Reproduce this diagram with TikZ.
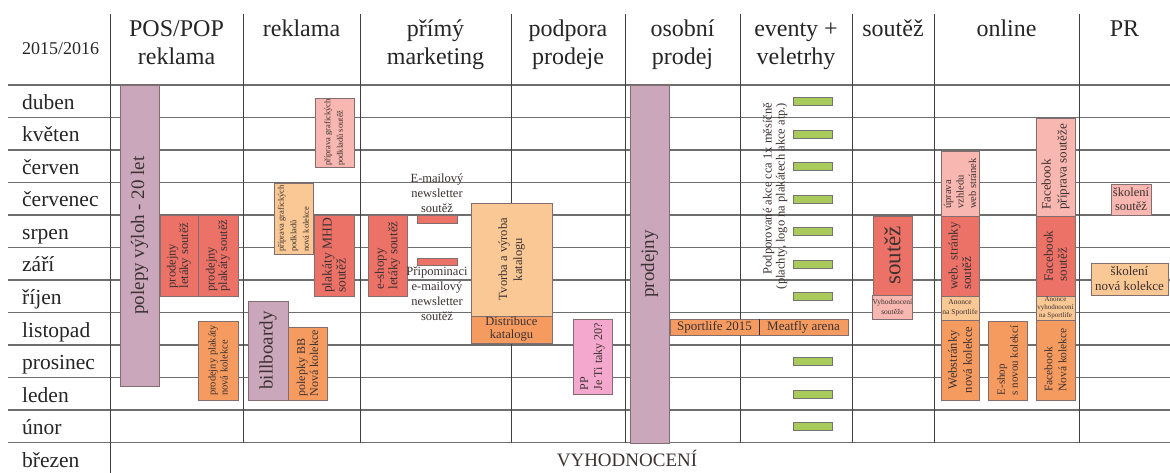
\documentclass[tikz,border=0pt]{standalone}
\usepackage{fontspec}
\setmainfont{Liberation Serif}
\usepackage{xcolor}
\usepackage{tikz}
\usetikzlibrary{positioning}
\definecolor{purp}{RGB}{203,167,187}
\definecolor{redc}{RGB}{236,114,104}
\definecolor{pinkl}{RGB}{248,183,176}
\definecolor{orl}{RGB}{250,200,148}
\definecolor{org}{RGB}{246,155,96}
\definecolor{pinkpp}{RGB}{245,168,205}
\definecolor{lime}{RGB}{168,203,92}
\definecolor{edge}{RGB}{130,110,110}
\definecolor{ink}{RGB}{60,50,50}
\definecolor{rulegray}{RGB}{110,110,110}
\newcommand{\fsz}[2]{\fontsize{#1}{#2}\selectfont}
\tikzstyle{hline} = [draw=rulegray, line width=1.1pt]
\tikzstyle{vline} = [draw=black!75, line width=0.9pt]
\tikzstyle{head} = [anchor=base, align=center, inner sep=0pt, text=black!85, font=\fsz{24}{28}]
\tikzstyle{month} = [anchor=base west, inner sep=0pt, text=black!85, font=\fsz{21.5}{24}]
\tikzstyle{cell} = [draw=edge, line width=0.7pt, inner sep=0pt, text=ink, align=center]
\tikzstyle{note} = [inner sep=0pt, text=ink, align=center, font=\fsz{12.5}{15}]
\tikzstyle{sep} = [draw=black!80, line width=1.6pt]
\tikzset{vcell/.style 2 args={cell, rotate=90, minimum width=#2pt, minimum height=#1pt},
  hcell/.style 2 args={cell, minimum width=#1pt, minimum height=#2pt}}

\begin{document}
\begin{tikzpicture}[x=1pt, y=-1pt]
    \useasboundingbox (0,0) rectangle (1170,473);
    \fill[white] (0,0) rectangle (1170,473);
    % grid
    \foreach \k in {0,...,11}
        \draw[hline] (8,{85+32.5*\k}) -- (1170,{85+32.5*\k});
    \foreach \x in {243,360,511,625,740,852,934,1079}
        \draw[vline] (\x,14) -- (\x,442.5);
    \draw[vline] (110,14) -- (110,473);

    % header (two-line nodes sit on the baseline of their last line)
    \node[month, font=\fsz{18}{20}] (year) at (22,55) {2015/2016};
    \node[head] (hpos) at (176.5,65) {POS/POP\\reklama};
    \node[head] (hrek) at (301.5,37) {reklama};
    \node[head] (hpm) at (435.5,65) {přímý\\marketing};
    \node[head] (hpp) at (568,65) {podpora\\prodeje};
    \node[head] (hop) at (682.5,65) {osobní\\prodej};
    \node[head] (hev) at (796,65) {eventy +\\veletrhy};
    \node[head] (hsou) at (893,37) {soutěž};
    \node[head] (honl) at (1006.5,37) {online};
    \node[head] (hpr) at (1124.5,37) {PR};

    % months
    \foreach \m [count=\i from 0] in {duben,květen,červen,červenec,srpen,září,říjen,listopad,prosinec,leden,únor,březen}
        \node[month] (m\i) at (22,{85+32.5*\i+24.5}) {\m};

    % POS/POP
    \node[vcell={39}{301}, fill=purp, font=\fsz{19}{22}] (polepy) at (139.5,235.5) {polepy výloh - 20 let};
    \node[vcell={38}{81}, fill=redc, align=left, font=\fsz{12.5}{12.5}] (letaky) at (179,255.5) {prodejny\\letáky soutěž};
    \node[vcell={40}{81}, fill=redc, align=left, font=\fsz{12.5}{12.5}] (plakaty) at (218,255.5) {prodejny\\plakáty soutěž};
    \node[vcell={40}{79}, fill=org, align=left, font=\fsz{10.5}{12}] (plakatynk) at (218,360.5) {prodejny plakáty\\nová kolekce};

    % reklama
    \node[vcell={39}{69}, fill=pinkl, align=left, font=\fsz{8.5}{12.5}] (pripravas) at (334.5,132.5) {příprava grafických\\podkladů soutěž};
    \node[vcell={39}{71}, fill=orl, align=left, font=\fsz{8.5}{12.5}] (pripravank) at (293.5,218.5) {příprava grafických\\podkladů\\nová kolekce};
    \node[vcell={40}{81}, fill=redc, align=left, font=\fsz{13.5}{14}] (mhd) at (334,255.5) {plakáty MHD\\soutěž};
    \node[vcell={40}{99}, fill=purp, font=\fsz{19}{22}] (billboardy) at (268,350.5) {billboardy};
    \node[vcell={39}{73}, fill=org, align=left, font=\fsz{12}{13}] (polepky) at (307.5,363.5) {polepky BB\\Nová kolekce};

    % primy marketing
    \node[vcell={39}{81}, fill=redc, align=left, font=\fsz{13}{13.5}] (eshopy) at (387.5,255.5) {e-shopy\\letáky soutěž};
    \node[hcell={40}{8}, fill=redc] (bar1) at (437,219) {};
    \node[hcell={40}{7}, fill=redc] (bar2) at (437,261.5) {};
    \node[note, above=2pt of bar1] (mail1) {E-mailový\\newsletter\\soutěž};
    \node[note, below=1pt of bar2] (mail2) {Připominaci\\e-mailový\\newsletter\\soutěž};

    % podpora prodeje
    \node[vcell={81}{113}, fill=orl, font=\fsz{12.5}{15}] (tvorba) at (511.5,259.5) {Tvorba a výroba\\katalogu};
    \node[hcell={81}{27}, fill=org, font=\fsz{12.5}{13}] (distribuce) at (511.5,329.5) {Distribuce\\katalogu};
    \node[vcell={39}{75}, fill=pinkpp, align=left, font=\fsz{12}{14}] (pp) at (592.5,356.5) {PP\\Je Ti taky 20?};

    % osobni prodej
    \node[vcell={39}{358}, fill=purp, font=\fsz{19}{22}] (prodejny) at (649.5,264) {prodejny};

    % eventy
    \node[hcell={89}{16}, fill=org, font=\fsz{13}{13}] (sportlife) at (714.5,327) {Sportlife 2015};
    \node[hcell={89}{16}, fill=org, font=\fsz{13}{13}] (meatfly) at (803.5,327) {Meatfly arena};
    \draw[sep] (sportlife.north east) -- (sportlife.south east);
    \node[note, rotate=90, align=right, font=\fsz{12.5}{13}] (podpora) at (775,196) {Podporované akce cca 1x měsíčně\\(plachty, logo na plakátech akce atp.)};
    \foreach \k in {0,1,2,3,4,5,6,8,9,10}
        \node[hcell={39}{8}, fill=lime, draw=black!55] (ev\k) at (812.5,{85+32.5*\k+16.75}) {};

    % soutez
    \node[vcell={39}{79}, fill=redc, font=\fsz{23}{25}] (soutez) at (892.5,255.5) {soutěž};
    \node[hcell={39}{24}, fill=pinkl, font=\fsz{7.5}{10}] (vyhod) at (892.5,307) {Vyhodnocení\\soutěže};

    % online
    \node[vcell={38}{65}, fill=pinkl, align=left, font=\fsz{10.5}{12.5}] (uprava) at (960,183.5) {úprava\\vzhledu\\web stránek};
    \node[vcell={38}{80}, fill=redc, align=left, font=\fsz{13}{13.5}] (webs) at (960,256) {web. stránky\\soutěž};
    \node[hcell={38}{24}, fill=orl, font=\fsz{7.5}{10}] (anonce1) at (960,308) {Anonce\\na Sportlife};
    \node[vcell={38}{80}, fill=org, font=\fsz{12.5}{15}] (webnk) at (960,360) {Webstránky\\nová kolekce};
    \node[vcell={39}{79}, fill=org, align=left, font=\fsz{11}{13}] (eshopnk) at (1007.5,360.5) {E-shop\\s novou kolekcí};
    \node[vcell={39}{98}, fill=pinkl, align=left, font=\fsz{13}{16}] (fbprip) at (1055.5,167) {Facebook\\příprava soutěže};
    \node[vcell={39}{80}, fill=redc, align=left, font=\fsz{13}{14}] (fbs) at (1055.5,256) {Facebook\\soutěž};
    \node[hcell={39}{24}, fill=orl, font=\fsz{7}{7.8}] (anonce2) at (1055.5,308) {Anonce\\vyhodnocení\\na Sportlife};
    \node[vcell={39}{80}, fill=org, align=left, font=\fsz{11.5}{14}] (fbnk) at (1055.5,360) {Facebook\\Nová kolekce};

    % PR
    \node[hcell={40}{31}, fill=pinkl, font=\fsz{12.5}{14}] (skolenis) at (1131,199.5) {školení\\soutěž};
    \node[hcell={77}{32}, fill=orl, font=\fsz{13}{15}] (skoleniNK) at (1129.5,279) {školení\\nová kolekce};

    % brezen
    \node[note, anchor=base, font=\fsz{19}{22}] (final) at (627,466) {VYHODNOCENÍ};
\end{tikzpicture}
\end{document}
